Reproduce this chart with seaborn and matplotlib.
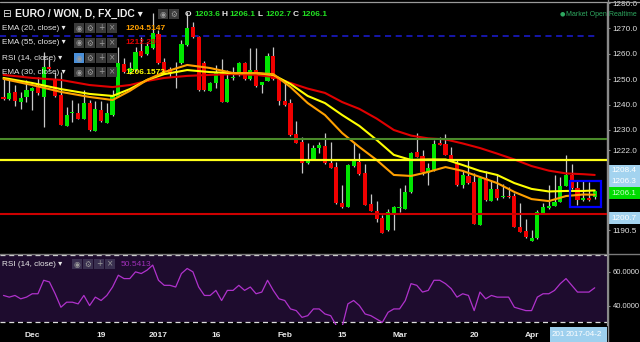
import numpy as np
import pandas as pd
import matplotlib
matplotlib.use("Agg")
import matplotlib.pyplot as plt
from matplotlib.patches import Rectangle
from matplotlib.lines import Line2D
import seaborn as sns

# ---------------- data ----------------
opens = [1242.9, 1242.1, 1244.8, 1241.1, 1243.1, 1245.5, 1247.0, 1243.1, 1254.9, 1249.7,
         1243.8, 1231.7, 1236.6, 1236.6, 1234.4, 1240.5, 1229.7, 1237.9, 1232.9, 1235.9,
         1243.1, 1256.0, 1252.8, 1253.6, 1261.2, 1259.9, 1262.3, 1267.8, 1256.9, 1253.9,
         1252.4, 1256.3, 1263.5, 1270.5, 1266.5, 1256.3, 1245.5, 1248.4, 1252.6, 1241.1,
         1250.4, 1251.7, 1256.3, 1250.0, 1253.6, 1247.7, 1249.4, 1259.1, 1250.0, 1241.4,
         1240.5, 1228.4, 1225.4, 1216.9, 1218.5, 1222.8, 1223.8, 1217.1, 1215.5, 1201.4,
         1199.8, 1215.8, 1217.5, 1213.0, 1200.9, 1198.2, 1195.2, 1190.6, 1197.5, 1199.3,
         1198.8, 1205.5, 1221.5, 1219.8, 1213.0, 1214.2, 1224.8, 1224.5, 1220.2, 1216.9,
         1208.3, 1211.9, 1209.6, 1192.6, 1211.0, 1202.2, 1206.8, 1203.5, 1204.1, 1204.0,
         1191.9, 1190.3, 1186.4, 1187.4, 1197.5, 1199.2, 1200.1, 1201.8, 1208.0, 1212.3,
         1207.1, 1202.4, 1203.1, 1203.6]
highs = [1250.5, 1249.7, 1247.7, 1245.1, 1249.7, 1247.0, 1251.0, 1260.8, 1258.0, 1253.0,
         1252.8, 1239.2, 1241.8, 1240.6, 1245.7, 1241.8, 1241.5, 1241.5, 1240.5, 1245.7,
         1262.8, 1258.3, 1256.8, 1262.8, 1266.6, 1264.8, 1276.1, 1269.4, 1258.3, 1254.9,
         1256.9, 1265.4, 1276.6, 1272.6, 1267.0, 1257.2, 1248.9, 1255.6, 1257.8, 1253.6,
         1254.9, 1256.8, 1256.9, 1262.2, 1262.2, 1249.0, 1260.2, 1262.8, 1250.5, 1249.7,
         1242.2, 1233.5, 1227.2, 1224.9, 1224.1, 1225.4, 1228.7, 1225.4, 1217.5, 1208.3,
         1216.6, 1225.4, 1220.8, 1216.6, 1204.8, 1202.0, 1196.5, 1198.8, 1200.1, 1207.3,
         1208.3, 1221.5, 1229.0, 1222.1, 1217.0, 1226.1, 1227.4, 1228.3, 1223.5, 1218.5,
         1214.0, 1218.2, 1213.0, 1211.9, 1214.0, 1210.0, 1212.6, 1208.9, 1207.5, 1205.1,
         1201.3, 1194.8, 1190.6, 1198.5, 1201.3, 1208.3, 1212.3, 1211.6, 1220.2, 1216.6,
         1210.5, 1210.2, 1209.6, 1206.1]
lows = [1241.8, 1241.8, 1239.4, 1238.1, 1241.1, 1237.9, 1243.8, 1231.3, 1253.6, 1242.9,
        1231.8, 1231.6, 1233.3, 1234.3, 1234.3, 1229.8, 1229.6, 1233.3, 1232.6, 1235.5,
        1243.0, 1252.4, 1252.0, 1253.2, 1258.7, 1259.5, 1261.9, 1256.0, 1252.8, 1251.0,
        1246.4, 1256.0, 1263.1, 1266.2, 1245.5, 1245.4, 1245.4, 1246.5, 1241.0, 1241.0,
        1249.7, 1251.3, 1249.7, 1249.7, 1246.9, 1244.4, 1249.3, 1249.7, 1239.8, 1239.6,
        1227.8, 1224.9, 1213.0, 1216.6, 1218.2, 1220.8, 1216.6, 1215.0, 1200.9, 1199.3,
        1199.7, 1215.4, 1212.3, 1200.3, 1198.1, 1193.8, 1189.4, 1190.2, 1190.6, 1197.8,
        1198.7, 1205.2, 1219.4, 1212.3, 1208.3, 1213.9, 1223.9, 1220.0, 1218.0, 1208.1,
        1207.3, 1208.7, 1192.8, 1192.4, 1202.2, 1202.0, 1202.4, 1203.2, 1203.1, 1191.8,
        1189.8, 1187.5, 1186.3, 1187.1, 1197.3, 1198.9, 1199.9, 1201.7, 1207.8, 1206.8,
        1200.5, 1202.2, 1202.2, 1202.7]
closes = [1242.1, 1244.4, 1241.5, 1242.7, 1245.7, 1246.4, 1244.4, 1254.9, 1253.9, 1243.4,
          1232.0, 1235.9, 1236.8, 1234.4, 1240.5, 1230.0, 1238.1, 1233.5, 1236.6, 1243.8,
          1256.3, 1253.0, 1254.4, 1260.8, 1259.1, 1263.1, 1268.2, 1256.3, 1253.3, 1252.6,
          1252.8, 1263.9, 1270.0, 1266.5, 1245.7, 1245.7, 1248.4, 1253.0, 1241.1, 1250.0,
          1251.0, 1256.3, 1250.0, 1253.6, 1247.3, 1248.7, 1259.1, 1250.0, 1241.4, 1239.8,
          1228.0, 1225.0, 1217.1, 1218.5, 1223.0, 1224.1, 1216.9, 1215.2, 1201.1, 1199.6,
          1216.2, 1218.5, 1212.6, 1200.5, 1198.2, 1194.8, 1189.6, 1197.6, 1199.8, 1199.5,
          1205.7, 1221.1, 1219.5, 1213.3, 1215.0, 1224.5, 1224.1, 1220.2, 1218.2, 1208.3,
          1212.3, 1209.0, 1193.0, 1211.2, 1202.4, 1206.7, 1203.1, 1204.1, 1203.7, 1191.9,
          1189.9, 1187.7, 1187.5, 1197.8, 1199.6, 1200.1, 1201.8, 1208.0, 1212.3, 1207.1,
          1202.4, 1203.1, 1202.4, 1206.1]

ema_idx = [0, 5, 10, 15, 19, 22, 25, 28, 32, 36, 40, 44, 47, 50, 53, 56, 59, 62, 65, 68,
           71, 74, 77, 80, 83, 86, 89, 92, 95, 98, 101, 103]
ema55 = [1251.7, 1250.5, 1249.7, 1247.7, 1246.9, 1247.7, 1249.3, 1250.5, 1251.3, 1251.7,
         1252.0, 1251.7, 1250.9, 1248.5, 1246.3, 1244.6, 1241.0, 1238.3, 1234.5, 1230.0,
         1227.8, 1226.7, 1226.3, 1224.7, 1222.9, 1220.7, 1218.4, 1215.8, 1214.0, 1212.9,
         1212.6, 1212.3]
ema30 = [1250.5, 1248.5, 1246.1, 1244.2, 1243.4, 1246.1, 1249.7, 1252.0, 1253.6, 1252.8,
         1252.4, 1252.4, 1251.7, 1248.1, 1243.4, 1240.6, 1235.9, 1231.6, 1226.1, 1220.2,
         1218.2, 1218.4, 1218.4, 1216.2, 1213.9, 1212.3, 1209.1, 1206.8, 1205.8, 1206.0,
         1206.0, 1206.2]
ema20 = [1250.1, 1247.7, 1245.0, 1243.0, 1241.8, 1245.4, 1249.7, 1252.8, 1255.6, 1254.4,
         1252.4, 1252.4, 1252.0, 1246.9, 1240.6, 1235.9, 1228.8, 1223.3, 1218.2, 1212.3,
         1211.9, 1213.5, 1215.4, 1213.9, 1211.5, 1209.1, 1205.6, 1202.8, 1202.0, 1204.0,
         1204.6, 1204.5]

rsi = [46, 45, 46, 44, 45, 47, 47, 55, 54, 47,
       39, 42, 42, 41, 46, 40, 45, 43, 46, 51,
       58, 56, 56, 60, 59, 61, 64, 55, 52, 52,
       51, 59, 62, 60, 51, 46, 46, 49, 43, 49,
       49, 52, 49, 51, 47, 48, 55, 49, 44, 43,
       38, 37, 33, 34, 38, 38, 35, 34, 28, 27.5,
       41, 43, 40, 35, 34, 32, 30, 36, 38, 38,
       43, 53, 52, 48, 49, 55, 55, 53, 50, 45,
       47, 46, 37, 48, 44, 46, 45, 45, 45, 39,
       38, 37, 37, 45, 47, 47, 49, 53, 56, 52,
       48, 48, 48, 50.5413]

date_tick_pos = [5, 17, 27, 37, 49, 59, 69, 82, 92]
date_tick_labels = ["Dec", "19", "2017", "16", "Feb", "15", "Mar", "20", "Apr"]
price_ticks = [1280, 1270, 1260, 1250, 1240, 1230, 1222, 1190.5]
price_tick_labels = ["1280.0", "1270.0", "1260.0", "1250.0", "1240.0", "1230.0", "1222.0", "1190.5"]
rsi_ticks = [60, 40]
rsi_tick_labels = ["60.0000", "40.0000"]

level_blue = 1267.0
level_green = 1226.5
level_yellow = 1218.2
level_red = 1197.1
box_x = [98.7, 104.1]
box_y = [1199.8, 1210.0]

price_labels = [("1208.4", "#a3d3ef", "white"), ("1206.3", "#a3d3ef", "white"),
                ("1206.1", "#00dd00", "#c8ffc8"), ("1200.7", "#a3d3ef", "white")]

# ---------------- style ----------------
sns.set_style("dark", {"axes.facecolor": "black", "figure.facecolor": "black",
                       "axes.grid": False})
FONT = ["Liberation Sans", "DejaVu Sans"]
plt.rcParams["font.family"] = FONT

W, H = 640, 342
def fx(x):
    return x / W
def fy(y):
    return 1 - y / H

fig = plt.figure(figsize=(6.4, 3.42), dpi=100, facecolor="black")
ax = fig.add_axes([0, fy(253), fx(607), (253 - 3) / H])
rax = fig.add_axes([0, fy(325), fx(607), (325 - 253) / H], sharex=ax)

df = pd.DataFrame({"o": opens, "h": highs, "l": lows, "c": closes})
df["i"] = np.arange(len(df))
up = df["c"] >= df["o"]
colors = np.where(up, "#00e600", "#f00000")
bottoms = np.minimum(df["o"], df["c"])
heights = np.maximum(np.abs(df["c"] - df["o"]), 0.35)

# levels
ax.axhline(level_blue, xmax=595 / 607, color="#1c1cd8", lw=1.1, ls=(0, (4, 3)), zorder=1)
ax.axhline(level_green, color="#4a8a2a", lw=1.5, zorder=5)
ax.axhline(level_yellow, color="#ffff1a", lw=1.6, zorder=5)
ax.axhline(level_red, color="#cc0000", lw=1.5, zorder=5)

# candles
ax.vlines(df["i"], df["l"], df["h"], colors="#c8c8c8", lw=0.9, zorder=2)
ax.bar(df["i"], heights, bottom=bottoms, width=0.72, color=colors, linewidth=0, zorder=3)

# EMAs
ema_df = pd.DataFrame({"i": ema_idx, "e55": ema55, "e30": ema30, "e20": ema20})
sns.lineplot(data=ema_df, x="i", y="e55", ax=ax, color="#e00000", lw=1.5, zorder=4, legend=False)
sns.lineplot(data=ema_df, x="i", y="e30", ax=ax, color="#ffff00", lw=1.5, zorder=4, legend=False)
sns.lineplot(data=ema_df, x="i", y="e20", ax=ax, color="#ffa000", lw=1.5, zorder=4, legend=False)

ax.add_patch(Rectangle((box_x[0], box_y[0]), box_x[1] - box_x[0], box_y[1] - box_y[0],
                       fill=False, ec="#0000ff", lw=1.6, zorder=6))

ax.set_xlim(-0.61, 105.14)
ax.set_ylim(1181.57, 1280.0)
ax.set_xlabel("")
ax.set_ylabel("")
ax.yaxis.tick_right()
ax.set_yticks(price_ticks)
ax.set_yticklabels(price_tick_labels)
ax.tick_params(axis="y", colors="#8a8a8a", labelcolor="#e0e0e0", length=2.5, width=0.8,
               pad=1.5, labelsize=5.9, direction="out")
ax.tick_params(axis="x", bottom=False, labelbottom=False)
for s in ["top", "left", "bottom"]:
    ax.spines[s].set_visible(False)
ax.spines["right"].set_color("#8a8a8a")
ax.spines["right"].set_linewidth(1.0)

# RSI panel
rsi_df = pd.DataFrame({"i": np.arange(len(rsi)), "rsi": rsi})
rax.axhspan(30, 70, color="#1e0c2e", zorder=0, lw=0)
rax.axhline(70, color="#dcdcdc", lw=0.9, ls=(0, (4, 3)), zorder=1)
rax.axhline(30, color="#dcdcdc", lw=0.9, ls=(0, (4, 3)), zorder=1)
sns.lineplot(data=rsi_df, x="i", y="rsi", ax=rax, color="#b032cc", lw=0.9, zorder=3, legend=False)
rax.set_ylim(28.46, 71.19)
rax.set_xlim(-0.61, 105.14)
rax.set_xlabel("")
rax.set_ylabel("")
rax.yaxis.tick_right()
rax.set_yticks(rsi_ticks)
rax.set_yticklabels(rsi_tick_labels)
rax.tick_params(axis="y", colors="#8a8a8a", labelcolor="#e0e0e0", length=2.5, width=0.8,
                pad=1.5, labelsize=5.5, direction="out")
rax.set_xticks(date_tick_pos)
rax.set_xticklabels(date_tick_labels, fontweight="bold")
rax.tick_params(axis="x", length=0, pad=5, labelsize=6.0, labelcolor="#e8e8e8")
for s in ["top", "left", "bottom"]:
    rax.spines[s].set_visible(False)
rax.spines["right"].set_color("#8a8a8a")

# frame lines
fig.add_artist(Line2D([0, 1], [fy(1.5), fy(1.5)], color="#9a9a9a", lw=0.9))
fig.add_artist(Line2D([0, 1], [fy(253.5), fy(253.5)], color="#7a7a7a", lw=1.0))
fig.add_artist(Line2D([fx(607.5), fx(607.5)], [0, 1], color="#8a8a8a", lw=1.0))

# price label boxes
box_rows = [(165, 176), (176, 187), (187, 199), (212, 224)]
for (txt, fc, tc), (y0, y1) in zip(price_labels, box_rows):
    fig.add_artist(Rectangle((fx(608), fy(y1)), fx(32), (y1 - y0) / H, facecolor=fc,
                             edgecolor="none", transform=fig.transFigure))
    fig.text(fx(611), fy((y0 + y1) / 2), txt, color=tc, fontsize=5.9, va="center", ha="left")

# date label box
fig.add_artist(Rectangle((fx(550), 0), fx(57), 15 / H, facecolor="#9ed0ee",
                         edgecolor="none", transform=fig.transFigure))
fig.text(fx(552), fy(335), "201", color="white", fontsize=5.8, va="center", ha="left")
fig.text(fx(566), fy(335), "2017-04-2", color="white", fontsize=5.8, va="center", ha="left")

# header legend
def icon_boxes(x0, yc, n, blue_first=False, fc="#3a3a3a", tc="#9a9a9a"):
    syms = ["\u25c9", "\u2699", "+", "\u00d7"][:n]
    for k, s in enumerate(syms):
        bx = x0 + 11 * k
        face = "#4a8fd8" if (blue_first and k == 0) else fc
        fig.add_artist(Rectangle((fx(bx), fy(yc + 5)), fx(10), 10 / H, facecolor=face,
                                 edgecolor="none", transform=fig.transFigure))
        fig.text(fx(bx + 5), fy(yc), s, color=tc, fontsize=5.5, ha="center", va="center",
                 family=["DejaVu Sans"])

fig.text(fx(2), fy(14), "\u229f", color="#f0f0f0", fontsize=7.5, va="center", ha="left",
         family=["DejaVu Sans"])
fig.text(fx(15), fy(14), "EURO / WON, D, FX_IDC \u25be", color="#f0f0f0",
         fontsize=7.5, fontweight="bold", va="center", ha="left")
icon_boxes(158, 14, 2)
ohlc = [("O", 185), ("1203.6", 194), ("H", 221), ("1206.1", 229), ("L", 257),
        ("1202.7", 265), ("C", 293), ("1206.1", 301)]
for t, x in ohlc:
    col = "#e8e8e8" if t in ("O", "H", "L", "C") else "#22e022"
    fig.text(fx(x), fy(14), t, color=col, fontsize=6.0, fontweight="bold", va="center", ha="left")

rows = [(28, "EMA (20, close) \u25be", "1204.5147", "#ffa000", False),
        (43, "EMA (55, close) \u25be", "1212.298", "#e00000", False),
        (58, "RSI (14, close) \u25be", "", "#b032cc", True),
        (72, "EMA (30, close) \u25be", "1206.1573", "#ffff00", False)]
for y, name, val, vc, blue in rows:
    fig.text(fx(2), fy(y), name, color="#e8e8e8", fontsize=5.9, va="center", ha="left")
    icon_boxes(74, y, 4, blue_first=blue)
    if val:
        fig.text(fx(125), fy(y), val, color=vc, fontsize=6.0, fontweight="bold", va="center", ha="left")

fig.text(fx(2), fy(264), "RSI (14, close) \u25be", color="#e8e8e8", fontsize=5.9, va="center", ha="left")
icon_boxes(72, 264, 4, fc="#3a3050")
fig.text(fx(121), fy(264), "50.5413", color="#a030b8", fontsize=6.0, va="center", ha="left")

fig.text(fx(560), fy(14), "\u25cf", color="#2ea860", fontsize=4.5, va="center", ha="left",
         family=["DejaVu Sans"])
fig.text(fx(566), fy(14), "Market Open Realtime", color="#2ea860", fontsize=5.0, va="center", ha="left")

fig.savefig("out.png", dpi=100, facecolor="black")
